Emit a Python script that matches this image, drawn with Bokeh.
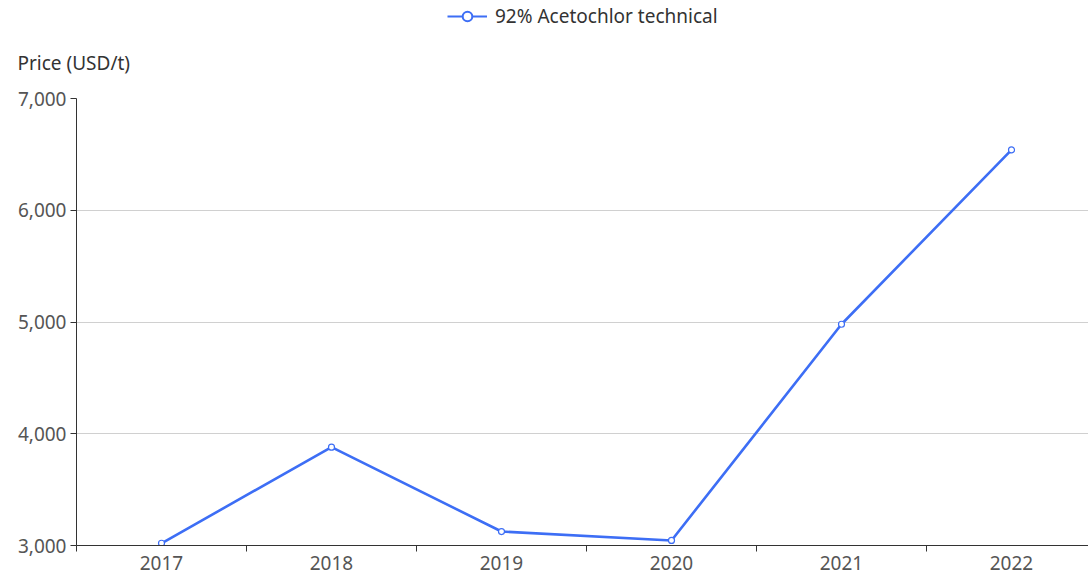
from bokeh.plotting import figure
from bokeh.layouts import column, row
from bokeh.models import (ColumnDataSource, FixedTicker, NumeralTickFormatter, Range1d,
                          Legend, LegendItem, Label)
from bokeh.embed import file_html
from bokeh.resources import INLINE

years = ["2017", "2018", "2019", "2020", "2021", "2022"]
prices = [3020, 3880, 3125, 3045, 4980, 6540]
series_name = "92% Acetochlor technical"
y_title = "Price (USD/t)"
y_ticks = [3000, 4000, 5000, 6000, 7000]

FONT = "Noto Sans"
BLUE = "#3d6ef5"
TOP_H = 75

xs = list(range(len(years)))
src = ColumnDataSource(dict(x=xs, y=prices))

# header strip: legend + y-axis title
h = figure(width=1088, height=TOP_H, output_backend="svg", toolbar_location=None,
           x_range=Range1d(0, 1088), y_range=Range1d(0, TOP_H),
           min_border=0, x_axis_type=None, y_axis_type=None)
h.outline_line_color = None
h.xgrid.visible = False
h.ygrid.visible = False
lg_line = h.line(x=[-10, -5], y=[-10, -10], line_color=BLUE, line_width=2.2)
lg_pt = h.scatter(x=[-10], y=[-10], size=15, marker="circle", fill_color="white",
                  line_color=BLUE, line_width=2)
legend = Legend(items=[LegendItem(label=series_name, renderers=[lg_line, lg_pt])],
                location=(447, TOP_H - 17 - 12), orientation="horizontal",
                label_text_font=FONT, label_text_font_size="19px", label_text_color="#333333",
                border_line_color=None, background_fill_alpha=0,
                glyph_width=40, glyph_height=24, label_standoff=8, padding=0, margin=0)
h.add_layout(legend, "center")
h.add_layout(Label(x=17, y=TOP_H - 62, text=y_title, text_font=FONT,
                   text_font_size="19px", text_color="#333333",
                   text_baseline="middle", text_align="left"))

p = figure(width=1088, height=583 - TOP_H, output_backend="svg", toolbar_location=None,
           x_range=Range1d(-0.5, -0.5 + 1012 / 170), y_range=Range1d(3000, 7000),
           min_border_left=76, min_border_right=0, min_border_top=98 - TOP_H,
           min_border_bottom=38)
p.outline_line_color = None
p.xgrid.grid_line_color = None
p.ygrid.grid_line_color = "#d0d0d0"
p.ygrid.grid_line_width = 1

p.xaxis.ticker = FixedTicker(ticks=xs, minor_ticks=[i - 0.5 for i in range(len(years) + 1)])
p.xaxis.major_label_overrides = {i: y for i, y in enumerate(years)}
p.xaxis.major_tick_out = 0
p.xaxis.major_tick_in = 0
p.xaxis.minor_tick_out = 6
p.xaxis.minor_tick_in = 0
p.xaxis.minor_tick_line_color = "#333333"
p.xaxis.axis_line_color = "#333333"
p.xaxis.major_label_text_font = FONT
p.xaxis.major_label_text_font_size = "19px"
p.xaxis.major_label_text_color = "#555555"
p.xaxis.major_label_standoff = 4

p.yaxis.ticker = FixedTicker(ticks=y_ticks)
p.yaxis.formatter = NumeralTickFormatter(format="0,0")
p.yaxis.minor_tick_line_color = None
p.yaxis.major_tick_out = 6
p.yaxis.major_tick_in = 0
p.yaxis.major_tick_line_color = "#333333"
p.yaxis.axis_line_color = "#333333"
p.yaxis.major_label_text_font = FONT
p.yaxis.major_label_text_font_size = "19px"
p.yaxis.major_label_text_color = "#555555"
p.yaxis.major_label_standoff = 4

p.line("x", "y", source=src, line_color=BLUE, line_width=2.6)
p.scatter("x", "y", source=src, size=6, marker="circle", fill_color="white",
          line_color=BLUE, line_width=1.2)

layout = column(row(h), row(p), spacing=0)
open("out.html", "w").write(file_html(layout, INLINE))
